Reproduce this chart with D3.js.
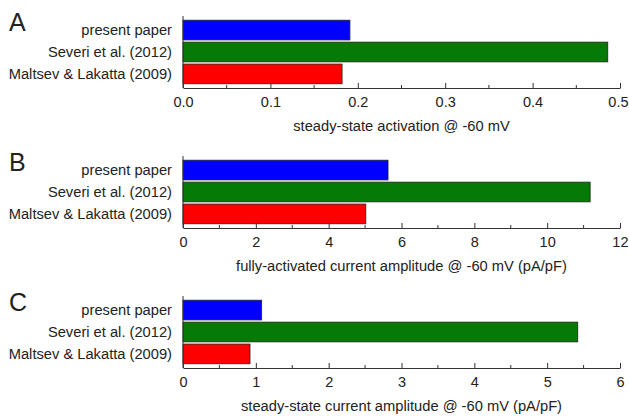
<!DOCTYPE html>
<html>
<head>
<meta charset="utf-8">
<script src="https://cdn.jsdelivr.net/npm/d3@7"></script>
<style>
  body { margin: 0; background: #fff; }
  svg text { font-family: "Liberation Sans", Arial, sans-serif; fill: #222; }
</style>
</head>
<body>
<svg id="chart" width="629" height="417"></svg>
<script>
// ─── Data ────────────────────────────────────────────────────────────────
const categories = ["present paper", "Severi et al. (2012)", "Maltsev & Lakatta (2009)"];
const barColors = ["#0000ff", "#067a06", "#ff0000"];

const panelLetters = ["A", "B", "C"];
const activation = [0.191, 0.486, 0.182];
const fullAmplitude = [5.63, 11.18, 5.02];
const steadyAmplitude = [1.08, 5.42, 0.92];

const axisMax = [0.5, 12, 6];
const majorStep = [0.1, 2, 1];
const tickFormats = [".1f", "d", "d"];
const axisTitles = [
  "steady-state activation @ -60 mV",
  "fully-activated current amplitude @ -60 mV (pA/pF)",
  "steady-state current amplitude @ -60 mV (pA/pF)"
];

const series = [activation, fullAmplitude, steadyAmplitude];

// ─── Layout ──────────────────────────────────────────────────────────────
const W = 629;
const X0 = 183, X1 = 620;
const PANEL_TOP = [0, 140, 280];

const svg = d3.select("#chart");

series.forEach((values, i) => {
  const top = PANEL_TOP[i];
  const g = svg.append("g").attr("transform", `translate(0,${top})`);
  const axisY = 88;

  const x = d3.scaleLinear().domain([0, axisMax[i]]).range([X0, X1]);
  const y = d3.scaleBand().domain(categories).range([18, 86]).padding(0.1);

  // bars
  g.selectAll("rect.bar")
    .data(values)
    .join("rect")
    .attr("class", "bar")
    .attr("x", x(0))
    .attr("y", (d, j) => y(categories[j]))
    .attr("width", d => x(d) - x(0))
    .attr("height", y.bandwidth())
    .attr("fill", (d, j) => barColors[j])
    .attr("stroke", "#222")
    .attr("stroke-width", 0.8);

  // category labels
  g.selectAll("text.cat")
    .data(categories)
    .join("text")
    .attr("class", "cat")
    .attr("x", 172)
    .attr("y", d => y(d) + y.bandwidth() / 2)
    .attr("dy", "0.35em")
    .attr("text-anchor", "end")
    .attr("font-size", 14.7)
    .text(d => d);

  // left spine
  g.append("line")
    .attr("x1", X0).attr("x2", X0)
    .attr("y1", 16).attr("y2", axisY)
    .attr("stroke", "#333").attr("stroke-width", 1);

  // x axis with inward ticks
  const majors = d3.range(0, axisMax[i] + majorStep[i] / 2, majorStep[i]);
  const minors = majors.slice(0, -1).map(v => v + majorStep[i] / 2);

  const axis = d3.axisBottom(x)
    .tickValues(majors)
    .tickFormat(d3.format(tickFormats[i]))
    .tickSizeInner(-5)
    .tickSizeOuter(0)
    .tickPadding(9);

  const ax = g.append("g")
    .attr("transform", `translate(0,${axisY})`)
    .call(axis);
  ax.select(".domain").attr("stroke", "#333");
  ax.selectAll(".tick line").attr("stroke", "#333");
  ax.selectAll(".tick text")
    .attr("font-size", 14.5)
    .attr("fill", "#333")
    .attr("font-family", "Liberation Sans, Arial, sans-serif");

  // keep the last label inside the page
  ax.selectAll(".tick text").each(function (d) {
    const bb = this.getBBox();
    const right = x(d) + bb.x + bb.width;
    if (right > W - 1) d3.select(this).attr("dx", (W - 1 - right) + "px");
  });

  ax.selectAll("line.minor")
    .data(minors)
    .join("line")
    .attr("class", "minor")
    .attr("x1", d => x(d)).attr("x2", d => x(d))
    .attr("y1", 0).attr("y2", -3)
    .attr("stroke", "#333");

  // axis title
  g.append("text")
    .attr("x", (X0 + X1) / 2)
    .attr("y", 131)
    .attr("text-anchor", "middle")
    .attr("font-size", 14.7)
    .text(axisTitles[i]);

  // panel letter
  g.append("text")
    .attr("x", 9)
    .attr("y", 31)
    .attr("font-size", 25)
    .attr("fill", "#111")
    .text(panelLetters[i]);
});
</script>
</body>
</html>
